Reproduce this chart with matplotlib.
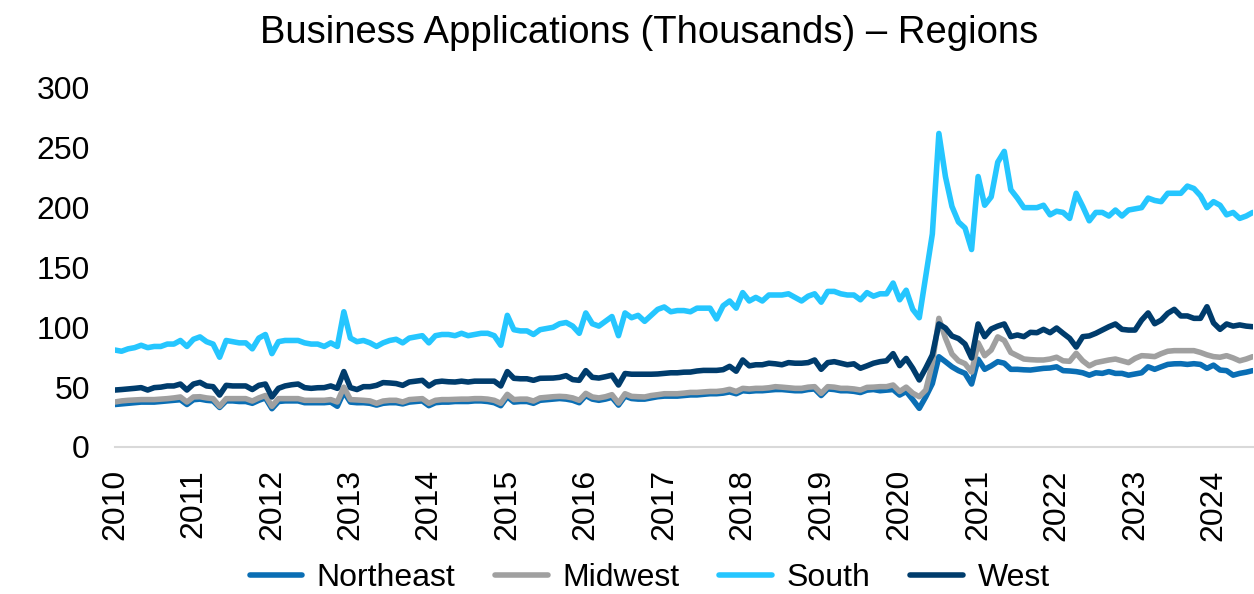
import numpy as np
import matplotlib
matplotlib.use("Agg")
import matplotlib.pyplot as plt

plt.rcParams['font.family'] = ['Liberation Sans', 'DejaVu Sans']

# monthly values, Jan 2010 - Jul 2024 (thousands)
years = [str(y) for y in range(2010, 2025)]

northeast = [
    35.5, 36, 36.5, 37, 37.5, 37.5, 37.5, 38, 38.5, 39, 39.5, 35.5,
    39.5, 40, 39, 38.5, 33, 38.5, 38.5, 38, 38, 36.5, 39, 41,
    32, 38, 38.5, 38.5, 38.5, 37, 37, 37, 37, 37.5, 34, 46,
    37.5, 37, 37, 36.5, 35, 36.5, 37, 37, 36, 37.5, 38, 38.5,
    34.5, 37, 37.5, 37.5, 38, 38, 38, 38.5, 38.5, 38, 37, 34.5,
    42, 37.5, 38, 38, 36.5, 39, 39.5, 40, 40.5, 40, 39, 37,
    43, 40, 39, 40, 41.5, 35, 42.5, 40.5, 40, 40, 41, 42,
    42.5, 42.5, 42.5, 43, 43.5, 43.5, 44, 44.5, 44.5, 45, 46, 44.5,
    47, 46.5, 47, 47, 47.5, 48, 48, 47.5, 47, 47, 48, 48.5,
    43, 48.5, 48, 47, 47, 46.5, 45.5, 47.5, 48, 47, 47.5, 48,
    43.4, 46.4, 39.6, 32.3, 42, 53, 75.4, 71.3, 67, 63.8, 61.5, 52.6,
    73.3, 64.9, 67.8, 71.3, 70, 64.9, 64.9, 64.5, 64.3, 65, 65.7, 66,
    67, 63.8, 63.5, 63, 62, 60, 62, 61.5, 63, 61.5, 61.5, 60,
    61, 62, 67, 64.9, 67, 69, 69.5, 69.6, 69, 69.6, 69, 65.7,
    68.4, 64.3, 63.8, 60, 61.5, 62.5, 63.8,
]

midwest = [
    37.6, 38.5, 39, 39.3, 39.6, 39.6, 39.6, 40, 40.4, 41, 41.8, 37.6,
    41.8, 42, 41, 40.4, 34, 40.4, 40.4, 40.4, 40.4, 38.4, 41, 43,
    34, 40.4, 40.4, 40.4, 40.4, 39, 39, 39, 39, 39.6, 37.6, 50,
    39.6, 39.3, 39, 38.5, 36.5, 38.4, 39, 39, 37.6, 39.6, 40, 40.4,
    36.5, 39, 39.6, 39.6, 39.8, 40, 40, 40.4, 40.4, 40, 39, 36.5,
    44, 39.6, 40, 40, 38.4, 41, 41.5, 42, 42.3, 42, 41, 39,
    44.8, 41.8, 41, 42, 43.7, 36.7, 44.5, 42.3, 42, 41.8, 43, 43.7,
    44.5, 44.5, 44.5, 45, 45.6, 45.6, 46, 46.4, 46.4, 47, 48.2, 46.4,
    49, 48.5, 49, 49, 49.5, 50.4, 50, 49.5, 49, 49, 50, 50.4,
    44.8, 50.4, 50, 49, 49, 48.5, 47.6, 49.8, 50, 50.4, 50.4, 51.8,
    46.4, 50, 45, 42, 47.6, 70, 107.5, 91, 77.7, 72, 69.6, 62.6,
    87, 76.3, 81, 92, 89, 79, 76.3, 73.5, 73, 72.7, 72.7, 73.5,
    75, 72, 71.6, 78.3, 72, 67.8, 70.5, 71.6, 72.7, 73.5, 72, 70.5,
    74, 76.3, 76, 75.5, 78, 80, 80.5, 80.5, 80.5, 80.5, 79, 77,
    75.5, 75, 76.3, 74.4, 72, 73.5, 75.5,
]

south = [
    81, 80, 82, 83, 85, 83, 84, 84, 86, 86, 89, 84,
    90, 92, 88, 86, 75, 89, 88, 87, 87, 82, 91, 94,
    78, 88, 89, 89, 89, 87, 86, 86, 84, 87, 84, 113,
    91, 88, 89, 87, 84, 87, 89, 90, 87, 91, 92, 93,
    87, 93, 94, 94, 93, 95, 93, 94, 95, 95, 93, 85,
    110, 98, 97, 97, 94, 98, 99, 100, 103, 104, 101, 95,
    112, 103, 101, 105, 109, 93, 112, 108, 110, 105, 110, 115,
    117, 113, 114, 114, 113, 116, 116, 116, 107, 118, 122, 116,
    129, 122, 125, 122, 127, 127, 127, 128, 125, 122, 126, 128,
    121, 130, 130, 128, 127, 127, 123, 129, 126, 128, 128, 137,
    123, 131, 115, 108, 143, 178, 262, 226, 201, 188, 183, 165,
    226, 202, 209, 238, 247, 215, 208, 200, 200, 200, 202, 194,
    197, 196, 191, 212, 201, 189, 196, 196, 193, 198, 193, 198,
    199, 200, 208, 206, 205, 212, 212, 212, 218, 216, 210, 200,
    205, 202, 194, 196, 191, 193, 196,
]

west = [
    47.6, 48, 48.5, 49, 49.6, 47.6, 49.6, 50, 51, 51, 52.6, 47.6,
    52.6, 54, 51, 50.4, 43.4, 51.5, 51, 51, 51, 48, 51.5, 52.6,
    41.8, 49, 51, 52, 52.6, 49.6, 49, 49.5, 49.6, 51, 49, 63,
    49.6, 48, 50.4, 50.4, 51.5, 53.8, 53.5, 53, 51.5, 54.3, 55, 55.7,
    51, 54.3, 55, 54.5, 54.3, 55, 54.3, 55, 55, 55, 55, 51,
    63, 57.4, 57, 57, 55.7, 57.4, 57.5, 57.6, 58.2, 59.6, 56.3, 55.7,
    63.8, 58.2, 57.6, 58.7, 60, 51.8, 61.4, 60.8, 60.8, 60.8, 60.8, 61,
    61.5, 62, 62, 62.5, 62.6, 63.5, 64, 64, 64, 64.6, 67.4, 63.3,
    72.7, 67.8, 68.7, 68.7, 70, 69.5, 68.7, 70.5, 70, 70, 70.5, 72.7,
    64.9, 70.5, 71.3, 70, 68.7, 69.5, 65.8, 67.8, 70, 71.3, 72, 78,
    68, 74, 65.8, 56, 66, 76.9, 102.8, 99.4, 92.7, 90.6, 86, 74.4,
    102.8, 92.2, 98.6, 101, 102.8, 92.2, 93.6, 92.2, 95.8, 95.5, 98.3, 95.5,
    99.4, 95, 90.8, 83.5, 92.2, 92.8, 95, 97.7, 100.5, 102.8, 98.3, 97.7,
    97.7, 106, 112, 103, 106, 111.7, 115, 109.5, 109.5, 107.5, 107.5, 117.2,
    103.7, 98.3, 102.8, 101, 102, 101, 100.5,
]

series = [
    ("Northeast", northeast, "#0A6EB4"),
    ("Midwest", midwest, "#A0A0A0"),
    ("South", south, "#25C6FF"),
    ("West", west, "#003C6C"),
]

x = np.arange(len(south))

fig = plt.figure(figsize=(12.54, 5.94), dpi=100)
ax = fig.add_axes([0.0917, 0.2475, 0.9073, 0.6044])

for name, vals, col in series:
    ax.plot(x, vals, color=col, lw=4, label=name, solid_capstyle='round', solid_joinstyle='round')

ax.set_xlim(0, len(south) - 1)
ax.set_ylim(0, 300)
ax.set_yticks(range(0, 301, 50))
ax.set_xticks(np.arange(0, len(south), 12))
ax.set_xticklabels(years, rotation=90)
ax.tick_params(axis='both', length=0, labelsize=23)
ax.tick_params(axis='y', pad=18)
ax.tick_params(axis='x', pad=16)

for s in ['top', 'right', 'left']:
    ax.spines[s].set_visible(False)
ax.spines['bottom'].set_color('#D9D9D9')
ax.spines['bottom'].set_linewidth(1.5)
ax.spines['bottom'].set_zorder(0)

fig.text(0.518, 0.944, "Business Applications (Thousands) \u2013 Regions", ha='center', va='center', fontsize=27.5)

fig.legend(loc='center', bbox_to_anchor=(0.518, 0.027), ncol=4, frameon=False,
           fontsize=23, handlelength=1.65, handletextpad=0.45, columnspacing=1.25,
           borderpad=0, borderaxespad=0)

fig.savefig("out.png", dpi=100)
